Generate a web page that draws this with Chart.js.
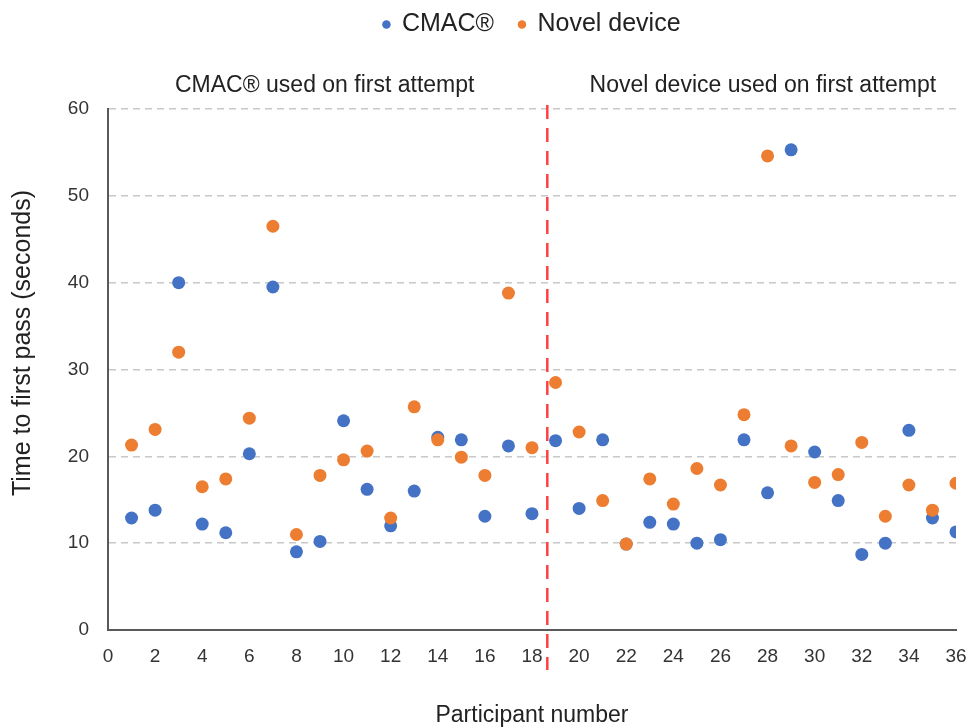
<!DOCTYPE html>
<html>
<head>
<meta charset="utf-8">
<script src="https://cdn.jsdelivr.net/npm/chart.js@4.4.1/dist/chart.umd.min.js"></script>
<style>
  body { margin: 0; background: #fff; }
  canvas { display: block; }
</style>
</head>
<body>
<canvas id="dataChart" width="968" height="727"></canvas>
<script>
'use strict';

let participants = [];
for (let i = 1; i <= 36; i++) {
  participants.push(i);
}

let cmacTimes = [12.9, 13.8, 40.0, 12.2, 11.2, 20.3, 39.5, 9.0, 10.2, 24.1, 16.2, 12.0,
  16.0, 22.2, 21.9, 13.1, 21.2, 13.4, 21.8, 14.0, 21.9, 9.9, 12.4, 12.2,
  10.0, 10.4, 21.9, 15.8, 55.3, 20.5, 14.9, 8.7, 10.0, 23.0, 12.9, 11.3];

let novelTimes = [21.3, 23.1, 32.0, 16.5, 17.4, 24.4, 46.5, 11.0, 17.8, 19.6, 20.6, 12.9,
  25.7, 21.9, 19.9, 17.8, 38.8, 21.0, 28.5, 22.8, 14.9, 9.9, 17.4, 14.5,
  18.6, 16.7, 24.8, 54.6, 21.2, 17.0, 17.9, 21.6, 13.1, 16.7, 13.8, 16.9];

let seriesNames = ['CMAC®', 'Novel device'];
let sectionLabels = ['CMAC® used on first attempt', 'Novel device used on first attempt'];
let xTitle = 'Participant number';
let yTitle = 'Time to first pass (seconds)';

// where the groups switch over (between participant 18 and 19)
let dividerAt = 18.65;

const FONT = '"Liberation Sans", Arial, sans-serif';

function toPoints(values) {
  return participants.map((p, i) => ({ x: p, y: values[i] }));
}

// legend sits above the two section labels, so give it extra room
let legendRoom = {
  id: 'legendRoom',
  beforeInit(chart) {
    if (!chart.legend) return;
    let fit = chart.legend.fit;
    chart.legend.fit = function () {
      fit.call(this);
      this.height = 122;
    };
  }
};

let extras = {
  id: 'extras',
  beforeDatasetsDraw(chart) {
    let ctx = chart.ctx;
    let x = chart.scales.x.getPixelForValue(dividerAt);
    let area = chart.chartArea;
    ctx.save();
    ctx.strokeStyle = '#ff4040';
    ctx.lineWidth = 2.5;
    ctx.setLineDash([14, 9]);
    ctx.beginPath();
    ctx.moveTo(x, area.top - 4);
    ctx.lineTo(x, area.bottom + 40);
    ctx.stroke();
    ctx.restore();
  },
  afterDraw(chart) {
    let ctx = chart.ctx;
    let xs = chart.scales.x;
    ctx.save();
    ctx.fillStyle = '#222';
    ctx.font = '23px ' + FONT;
    ctx.textAlign = 'center';
    ctx.textBaseline = 'alphabetic';
    ctx.fillText(sectionLabels[0], xs.getPixelForValue(9.2), 92);
    ctx.fillText(sectionLabels[1], xs.getPixelForValue(27.8), 92);

    // y axis title, rotated
    ctx.translate(23, 343);
    ctx.rotate(-Math.PI / 2);
    ctx.font = '25px ' + FONT;
    ctx.textBaseline = 'middle';
    ctx.fillText(yTitle, 0, 0);
    ctx.restore();
  }
};

let ctx = document.getElementById('dataChart').getContext('2d');
// eslint-disable-next-line no-unused-vars
let dataChart = new Chart(ctx, {
  type: 'scatter',
  data: {
    datasets: [{
      label: seriesNames[0],
      data: toPoints(cmacTimes),
      backgroundColor: '#4472c4',
      borderColor: '#4472c4',
      pointRadius: 6.5,
      pointBorderWidth: 0,
      order: 1
    }, {
      label: seriesNames[1],
      data: toPoints(novelTimes),
      backgroundColor: '#ed7d31',
      borderColor: '#ed7d31',
      pointRadius: 6.5,
      pointBorderWidth: 0,
      order: 0
    }]
  },
  options: {
    responsive: false,
    animation: false,
    devicePixelRatio: 1,
    layout: {
      padding: { top: -13, left: 10, right: 12, bottom: 0 }
    },
    plugins: {
      tooltip: { enabled: false },
      legend: {
        position: 'top',
        fullSize: false,
        labels: {
          usePointStyle: true,
          pointStyle: 'circle',
          boxWidth: 6,
          boxHeight: 6,
          padding: 25,
          color: '#222',
          font: { family: FONT, size: 25 },
          sort: (a, b) => a.datasetIndex - b.datasetIndex
        }
      }
    },
    scales: {
      x: {
        type: 'linear',
        min: 0,
        max: 36,
        afterFit(scale) {
          scale.height = 97;
          scale.paddingLeft = 0;
          scale.paddingRight = 0;
        },
        ticks: {
          stepSize: 2,
          padding: 15,
          color: '#333',
          font: { family: FONT, size: 19 }
        },
        grid: { display: false, drawTicks: false },
        border: { display: true, color: '#595959', width: 2 },
        title: {
          display: true,
          text: xTitle,
          color: '#222',
          font: { family: FONT, size: 23, lineHeight: 0.95 },
          padding: { top: 0, bottom: 0 }
        }
      },
      y: {
        min: 0,
        max: 60,
        afterFit(scale) { scale.width = 98; },
        ticks: {
          stepSize: 10,
          padding: 19,
          color: '#333',
          font: { family: FONT, size: 19 }
        },
        grid: {
          drawTicks: false,
          lineWidth: 1.5,
          color: (c) => (c.tick && c.tick.value === 0 ? 'rgba(0,0,0,0)' : '#c8c8c8')
        },
        border: { display: true, color: '#595959', width: 2, dash: [7, 5] }
      }
    }
  },
  plugins: [legendRoom, extras]
});
</script>
</body>
</html>
